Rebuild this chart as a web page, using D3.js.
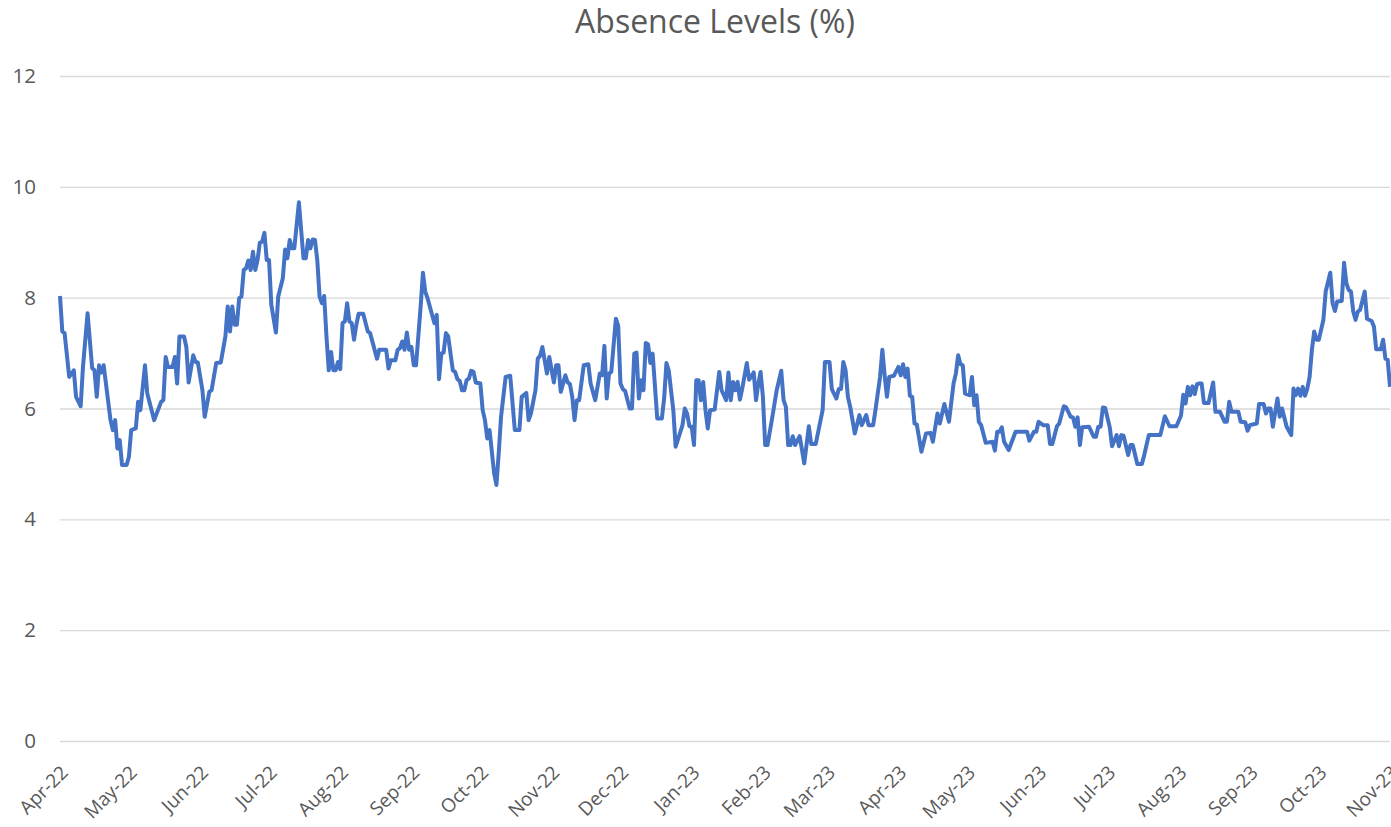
<!DOCTYPE html>
<html>
<head>
<meta charset="utf-8">
<script src="https://cdn.jsdelivr.net/npm/d3@7"></script>
<style>
  body { margin: 0; background: #fff; }
</style>
</head>
<body>
<div id="chart"></div>
<script>
// days since 1 Apr 2022, and absence level (%) on that day
const startDate = new Date(2022, 3, 1);
const endDate = new Date(2023, 10, 1);
const dayOffset = [
  0, 1, 2, 4, 6, 7, 9, 10, 12, 14, 15, 16, 17, 18, 19, 22, 23, 24, 25, 26, 27, 29, 30, 31, 33, 34, 35, 37, 38, 41,
  44, 45, 46, 47, 49, 50, 51, 52, 54, 55, 56, 58, 59, 60, 62, 63, 65, 66, 68, 70, 72, 73, 74, 75, 76, 77, 78, 79, 80, 81,
  82, 83, 84, 85, 86, 87, 88, 89, 90, 91, 92, 94, 95, 97, 98, 99, 100, 101, 102, 104, 106, 107, 108, 109, 110, 111, 112, 113, 114, 115,
  116, 117, 118, 119, 120, 121, 122, 123, 124, 125, 126, 127, 128, 129, 130, 132, 134, 135, 138, 139, 142, 143, 144, 146, 147, 148, 149, 150, 151, 152,
  153, 154, 155, 157, 158, 159, 160, 163, 164, 165, 166, 167, 168, 169, 171, 172, 173, 174, 175, 176, 177, 178, 179, 180, 181, 183, 184, 185, 186, 187,
  189, 190, 191, 192, 194, 196, 198, 200, 201, 203, 204, 205, 207, 208, 209, 210, 212, 213, 215, 216, 217, 218, 220, 221, 222, 223, 224, 225, 226, 228,
  230, 231, 233, 235, 236, 237, 238, 239, 240, 242, 243, 244, 245, 246, 248, 249, 250, 251, 252, 253, 254, 255, 256, 257, 258, 260, 262, 263, 264, 265,
  267, 268, 271, 272, 273, 274, 275, 276, 277, 278, 279, 280, 281, 282, 283, 285, 287, 288, 290, 291, 292, 293, 294, 295, 296, 297, 299, 300, 302, 303,
  304, 305, 306, 307, 308, 310, 312, 314, 315, 316, 317, 318, 319, 320, 322, 324, 326, 327, 329, 332, 333, 335, 336, 338, 339, 340, 341, 342, 343, 344,
  346, 348, 349, 351, 352, 354, 355, 357, 358, 359, 360, 361, 363, 365, 366, 367, 368, 369, 370, 371, 372, 373, 375, 377, 379, 380, 382, 383, 385, 387,
  389, 390, 391, 392, 393, 394, 396, 397, 398, 399, 400, 401, 403, 406, 407, 408, 409, 410, 411, 413, 416, 421, 422, 424, 425, 426, 428, 430, 431, 432,
  434, 435, 437, 438, 440, 441, 442, 443, 444, 445, 448, 450, 451, 452, 453, 454, 455, 457, 458, 460, 461, 462, 463, 465, 466, 467, 469, 471, 472, 474,
  479, 481, 483, 486, 488, 489, 490, 491, 492, 493, 494, 495, 496, 497, 498, 500, 502, 503, 505, 507, 508, 509, 510, 513, 514, 516, 517, 518, 521, 522,
  524, 525, 526, 527, 528, 530, 531, 532, 534, 536, 537, 538, 539, 540, 541, 542, 543, 544, 545, 546, 547, 548, 550, 551, 553, 554, 555, 556, 558, 559,
  560, 561, 562, 563, 564, 565, 566, 568, 569, 571, 572, 573, 575, 576, 577, 578, 579
];
const absence = [
  8.03, 7.39, 7.36, 6.57, 6.69, 6.21, 6.04, 6.75, 7.72, 6.73, 6.69, 6.21, 6.78, 6.65, 6.78, 5.79, 5.61, 5.79, 5.28, 5.43, 4.98, 4.98, 5.13, 5.61, 5.64, 6.12, 5.97, 6.78, 6.27, 5.79,
  6.12, 6.15, 6.93, 6.75, 6.75, 6.93, 6.45, 7.30, 7.30, 7.11, 6.47, 6.96, 6.84, 6.83, 6.33, 5.85, 6.30, 6.33, 6.82, 6.83, 7.30, 7.84, 7.39, 7.84, 7.51, 7.51, 7.99, 8.02, 8.50, 8.53,
  8.67, 8.50, 8.83, 8.50, 8.68, 8.99, 9.01, 9.17, 8.68, 8.68, 7.87, 7.37, 8.02, 8.35, 8.87, 8.71, 9.04, 8.89, 8.89, 9.72, 8.71, 8.71, 9.04, 8.89, 9.05, 9.04, 8.68, 8.02, 7.90, 8.03,
  7.30, 6.69, 7.02, 6.69, 6.69, 6.84, 6.71, 7.54, 7.57, 7.90, 7.57, 7.54, 7.24, 7.51, 7.71, 7.71, 7.39, 7.36, 6.90, 7.06, 7.06, 6.72, 6.87, 6.87, 7.06, 7.09, 7.21, 7.06, 7.37, 7.06,
  7.11, 6.78, 6.78, 7.84, 8.45, 8.11, 7.99, 7.54, 7.69, 6.53, 6.99, 7.01, 7.36, 7.30, 6.69, 6.66, 6.53, 6.50, 6.33, 6.33, 6.51, 6.54, 6.68, 6.66, 6.47, 6.45, 5.97, 5.79, 5.46, 5.61,
  4.83, 4.62, 5.20, 5.85, 6.57, 6.59, 5.61, 5.61, 6.21, 6.28, 5.79, 5.91, 6.33, 6.90, 6.95, 7.11, 6.63, 6.93, 6.47, 6.78, 6.78, 6.30, 6.60, 6.47, 6.44, 6.21, 5.79, 6.15, 6.15, 6.78,
  6.80, 6.45, 6.15, 6.63, 6.60, 7.13, 6.18, 6.63, 6.66, 7.62, 7.49, 6.45, 6.35, 6.32, 6.00, 6.00, 6.99, 7.01, 6.18, 6.51, 6.33, 7.18, 7.16, 6.82, 6.99, 5.82, 5.82, 6.18, 6.82, 6.69,
  5.97, 5.31, 5.70, 6.00, 5.91, 5.68, 5.67, 5.34, 6.51, 6.51, 6.15, 6.48, 5.97, 5.64, 5.97, 5.98, 6.66, 6.33, 6.15, 6.65, 6.15, 6.48, 6.33, 6.48, 6.16, 6.36, 6.82, 6.52, 6.65, 6.15,
  6.45, 6.66, 6.21, 5.34, 5.34, 5.82, 6.33, 6.68, 6.15, 6.03, 5.34, 5.34, 5.50, 5.34, 5.50, 5.01, 5.68, 5.36, 5.36, 5.97, 6.84, 6.84, 6.35, 6.18, 6.35, 6.35, 6.84, 6.69, 6.21, 6.03,
  5.55, 5.88, 5.70, 5.88, 5.70, 5.70, 5.97, 6.57, 7.06, 6.60, 6.21, 6.57, 6.59, 6.75, 6.60, 6.80, 6.57, 6.72, 6.23, 6.21, 5.73, 5.71, 5.22, 5.55, 5.56, 5.40, 5.91, 5.73, 6.08, 5.76,
  6.45, 6.63, 6.96, 6.80, 6.78, 6.27, 6.24, 6.57, 6.06, 6.24, 5.76, 5.70, 5.38, 5.40, 5.24, 5.58, 5.58, 5.66, 5.40, 5.25, 5.58, 5.58, 5.42, 5.58, 5.58, 5.76, 5.70, 5.70, 5.36, 5.36,
  5.68, 5.73, 6.04, 6.02, 5.85, 5.84, 5.67, 5.84, 5.34, 5.66, 5.67, 5.49, 5.49, 5.67, 5.67, 6.02, 6.01, 5.66, 5.32, 5.52, 5.32, 5.52, 5.51, 5.16, 5.34, 5.34, 5.00, 5.00, 5.16, 5.52,
  5.52, 5.86, 5.68, 5.68, 5.87, 6.25, 6.09, 6.39, 6.24, 6.40, 6.26, 6.44, 6.45, 6.45, 6.10, 6.10, 6.47, 5.94, 5.94, 5.76, 5.76, 6.12, 5.94, 5.94, 5.76, 5.75, 5.60, 5.70, 5.73, 6.08,
  6.08, 5.91, 6.00, 6.00, 5.67, 6.18, 5.85, 6.00, 5.67, 5.52, 6.36, 6.24, 6.36, 6.23, 6.39, 6.23, 6.36, 6.57, 7.06, 7.39, 7.24, 7.24, 7.60, 8.11, 8.45, 7.90, 7.76, 7.93, 7.94, 8.63,
  8.26, 8.14, 8.11, 7.75, 7.60, 7.75, 7.78, 8.11, 7.62, 7.58, 7.48, 7.07, 7.07, 7.24, 6.90, 6.88, 6.39
];
const yTicks = [0, 2, 4, 6, 8, 10, 12];
const chartTitle = "Absence Levels (%)";

const width = 1391;
const height = 827;
const margin = { top: 76, right: 1, bottom: 86, left: 60 };
const font = "'Open Sans', sans-serif";
const textColor = "#595959";
const gridColor = "#d9d9d9";
const lineColor = "#4472C4";

const data = dayOffset.map((d, i) => ({
  date: d3.timeDay.offset(startDate, d),
  value: absence[i]
}));

const svg = d3.select("#chart").append("svg")
  .attr("width", width)
  .attr("height", height)
  .style("font-family", font)
  .style("background", "white");

const x = d3.scaleTime()
  .domain([startDate, endDate])
  .range([margin.left, width - margin.right]);

const y = d3.scaleLinear()
  .domain([0, 12])
  .range([height - margin.bottom, margin.top]);

// title
svg.append("text")
  .attr("x", 715).attr("y", 33)
  .attr("text-anchor", "middle")
  .style("font-size", "32px")
  .style("fill", textColor)
  .text(chartTitle);

// y axis + gridlines
const yAxis = svg.append("g")
  .attr("transform", `translate(${margin.left},0)`)
  .call(d3.axisLeft(y)
    .tickValues(yTicks)
    .tickSize(-(width - margin.left - margin.right))
    .tickPadding(24));
yAxis.attr("font-family", null);
yAxis.select(".domain").remove();
yAxis.selectAll(".tick line").attr("stroke", gridColor).attr("stroke-width", 1.3);
yAxis.selectAll(".tick text")
  .style("font-family", font)
  .style("font-size", "20.5px")
  .style("fill", textColor);

// x axis (month labels, rotated)
const xAxis = svg.append("g")
  .attr("transform", `translate(0,${height - margin.bottom})`)
  .call(d3.axisBottom(x)
    .ticks(d3.timeMonth.every(1))
    .tickFormat(d3.timeFormat("%b-%y"))
    .tickSize(0));
xAxis.attr("font-family", null);
xAxis.select(".domain").remove();
xAxis.selectAll(".tick text")
  .attr("x", 0).attr("y", 0).attr("dy", "0.35em")
  .attr("text-anchor", "end")
  .attr("transform", "translate(4,28) rotate(-45)")
  .style("font-family", font)
  .style("font-size", "19px")
  .style("fill", textColor);

// line
const line = d3.line()
  .x(d => x(d.date))
  .y(d => y(d.value));

svg.append("path")
  .datum(data)
  .attr("fill", "none")
  .attr("stroke", lineColor)
  .attr("stroke-width", 4)
  .attr("stroke-linejoin", "round")
  .attr("d", line);
</script>
</body>
</html>
